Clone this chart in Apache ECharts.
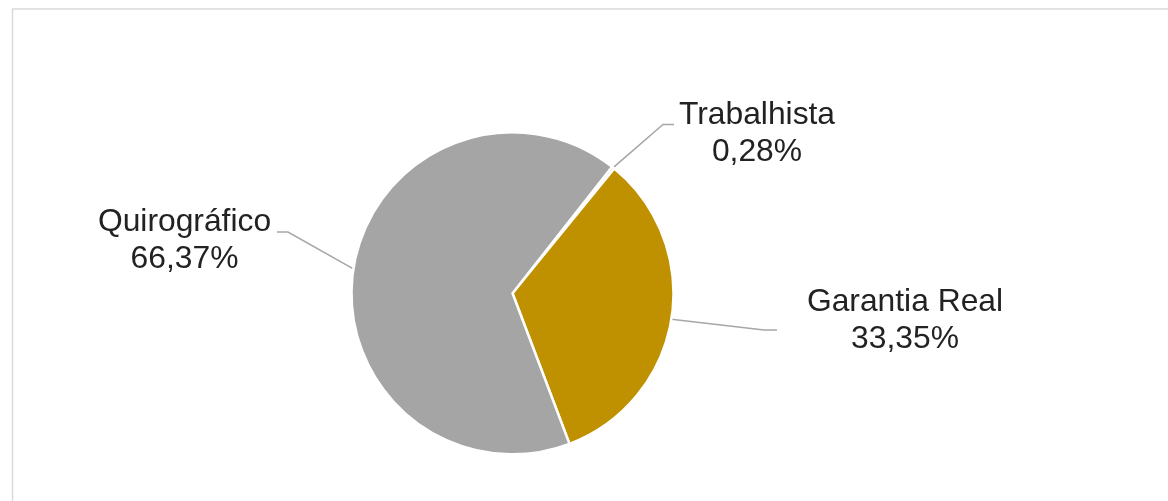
<!DOCTYPE html>
<html>
<head>
<meta charset="utf-8">
<script src="https://cdn.jsdelivr.net/npm/echarts@6/dist/echarts.min.js"></script>
<style>
html,body{margin:0;padding:0;background:#fff;}
#chart{width:1168px;height:501px;}
</style>
</head>
<body>
<div id="chart"></div>
<script>
const categories = ['Trabalhista', 'Garantia Real', 'Quirográfico'];
const values = [0.28, 33.35, 66.37];
const colors = ['#7f7f7f', '#bf9000', '#a5a5a5'];

// label block centres and leader-line bend/end points (px)
const labelPos = [[757, 134], [905, 321], [184.5, 241]];
const linePts = [
  [[663, 124.5], [674, 124.5]],
  [[764, 330], [777, 330]],
  [[288, 232], [277, 232]]
];

const fmt = v => v.toFixed(2).replace('.', ',') + '%';

const chart = echarts.init(document.getElementById('chart'));
chart.setOption({
  animation: false,
  backgroundColor: '#fff',
  graphic: [{
    type: 'rect',
    shape: {x: 12.5, y: 9, width: 1200, height: 600},
    style: {fill: 'none', stroke: '#d9d9d9', lineWidth: 1.5},
    silent: true
  }],
  series: [{
    type: 'pie',
    center: [512.5, 293.3],
    radius: 161,
    startAngle: 51.8,
    clockwise: true,
    avoidLabelOverlap: false,
    itemStyle: {borderColor: '#fff', borderWidth: 2.5},
    label: {
      show: true,
      position: 'outside',
      formatter: p => p.name + '\n' + fmt(values[p.dataIndex]),
      fontFamily: 'Liberation Sans, Arial, sans-serif',
      fontSize: 31.8,
      lineHeight: 37,
      color: '#222',
      align: 'center'
    },
    labelLine: {
      show: true,
      length: 20,
      length2: 10,
      lineStyle: {color: '#a6a6a6', width: 1.5}
    },
    labelLayout: function (params) {
      const i = params.dataIndex;
      const start = params.labelLinePoints ? params.labelLinePoints[0] : linePts[i][0];
      return {
        x: labelPos[i][0],
        y: labelPos[i][1],
        align: 'center',
        verticalAlign: 'middle',
        labelLinePoints: [start, linePts[i][0], linePts[i][1]]
      };
    },
    data: categories.map((c, i) => ({
      name: c,
      value: values[i],
      itemStyle: {color: colors[i]}
    }))
  }]
});
</script>
</body>
</html>
